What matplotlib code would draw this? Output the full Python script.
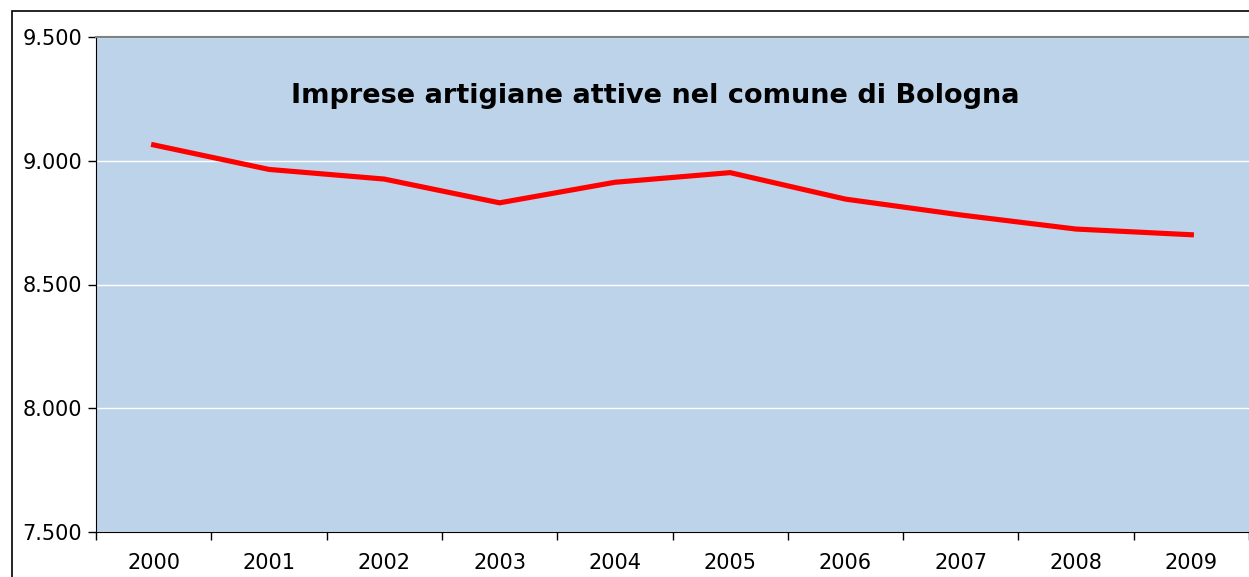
import matplotlib.pyplot as plt
from matplotlib.patches import Rectangle
from matplotlib.ticker import FuncFormatter, FixedLocator

# Data
years = ["2000", "2001", "2002", "2003", "2004", "2005", "2006", "2007", "2008", "2009"]
imprese = [9064, 8965, 8926, 8830, 8913, 8952, 8845, 8781, 8724, 8701]
title = "Imprese artigiane attive nel comune di Bologna"

fig = plt.figure(figsize=(12.49, 5.77), dpi=100)
ax = fig.add_axes([96 / 1249, 1 - 532 / 577, 1 - 96 / 1249, (532 - 37) / 577])

# outer chart frame (right/bottom fall outside the picture)
fig.patches.append(Rectangle((12 / 1249, -0.1), 1.2, 1 - 11 / 577 + 0.1,
                             transform=fig.transFigure, fill=False,
                             edgecolor="black", linewidth=1.2))

ax.set_facecolor("#bdd3e9")
x = list(range(len(years)))
ax.plot(x, imprese, color="#ff0000", linewidth=3.7, solid_joinstyle="miter")

ax.set_ylim(7500, 9500)
ax.set_xlim(-0.5, len(years) - 0.5)
ax.set_yticks([7500, 8000, 8500, 9000, 9500])
ax.yaxis.set_major_formatter(FuncFormatter(lambda v, p: f"{int(v):,}".replace(",", ".")))
ax.grid(axis="y", color="white", linewidth=1)
ax.set_axisbelow(True)

ax.set_xticks(x)
ax.set_xticklabels(years)
ax.xaxis.set_minor_locator(FixedLocator([i - 0.5 for i in range(len(years) + 1)]))
ax.tick_params(axis="x", which="major", length=0, pad=15, labelsize=15)
ax.tick_params(axis="x", which="minor", length=6, width=1, direction="out")
ax.tick_params(axis="y", length=6, width=1, pad=4, labelsize=15)

for side in ["left", "bottom"]:
    ax.spines[side].set_color("black")
ax.spines["top"].set_color("#808080")
ax.spines["top"].set_linewidth(1.5)
ax.spines["right"].set_visible(False)

ax.text(0.485, 0.88, title, transform=ax.transAxes, ha="center", va="center",
        fontsize=19.5, fontweight="bold")

fig.savefig("out.png", dpi=100)
